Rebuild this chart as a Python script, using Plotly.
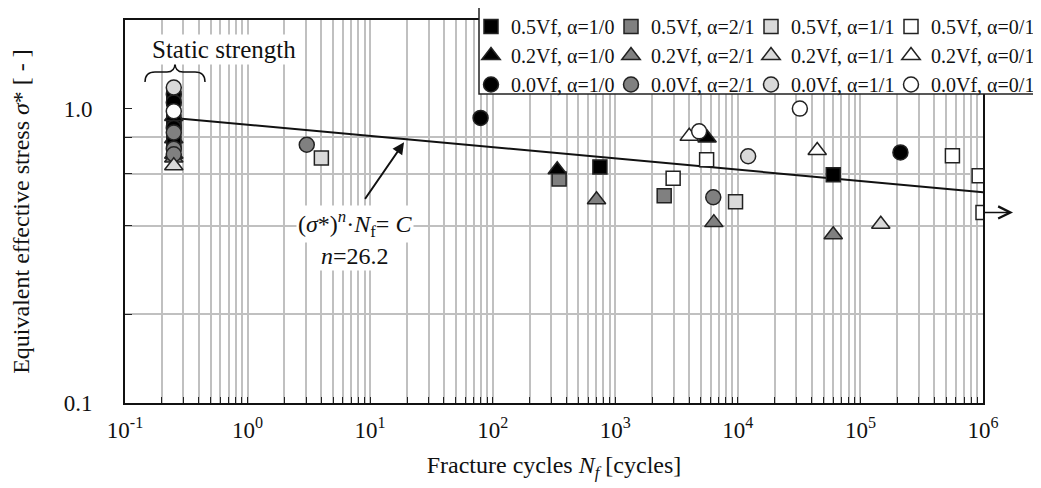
import math
import plotly.graph_objects as go

FONT = "Liberation Serif"

# ---------------- data ----------------
STATIC_N = 0.25  # static strength plotted at this abscissa

# 0.5Vf (squares)
n_05_10 = [749, 60000];            s_05_10 = [0.634, 0.596];            st_05_10 = [1.08, 0.90, 0.78]
n_05_21 = [348, 2506];             s_05_21 = [0.577, 0.506];            st_05_21 = [0.88]
n_05_11 = [4.0, 9570];             s_05_11 = [0.68, 0.483];             st_05_11 = [0.76]
n_05_01 = [2965, 5560, 563000, 930000, 1000000]
s_05_01 = [0.58, 0.671, 0.692, 0.592, 0.444];                           st_05_01 = [0.90]
# 0.2Vf (triangles)
n_02_10 = [336, 5610];             s_02_10 = [0.62, 0.795];             st_02_10 = [0.94, 0.70]
n_02_21 = [703, 6370, 60000];      s_02_21 = [0.49, 0.41, 0.373];       st_02_21 = [0.68]
n_02_11 = [146600];                s_02_11 = [0.405];                   st_02_11 = [0.64]
n_02_01 = [4010, 44400];           s_02_01 = [0.805, 0.721];            st_02_01 = [0.79]
# 0.0Vf (circles)
n_00_10 = [79.6, 212000];          s_00_10 = [0.93, 0.71];              st_00_10 = [1.12, 1.05, 0.86]
n_00_21 = [3.04, 6300];            s_00_21 = [0.754, 0.50];             st_00_21 = [0.83, 0.73, 0.70]
n_00_11 = [12130];                 s_00_11 = [0.689];                   st_00_11 = [1.18]
n_00_01 = [4830, 32060];           s_00_01 = [0.837, 1.0];              st_00_01 = [0.98]

# fitted S-N line (sigma*)^n * Nf = C, n = 26.2 (end points)
fit_N = [0.25, 1000000]
fit_S = [0.93, 0.52]
runout_N = [1000000]
runout_S = [0.444]

series_names = ["0.5Vf, α=1/0", "0.5Vf, α=2/1", "0.5Vf, α=1/1", "0.5Vf, α=0/1",
                "0.2Vf, α=1/0", "0.2Vf, α=2/1", "0.2Vf, α=1/1", "0.2Vf, α=0/1",
                "0.0Vf, α=1/0", "0.0Vf, α=2/1", "0.0Vf, α=1/1", "0.0Vf, α=0/1"]
x_tick_vals = [0.1, 1, 10, 100, 1000, 10000, 100000, 1000000]
x_tick_text = ["10<sup>-1</sup>", "10<sup>0</sup>", "10<sup>1</sup>", "10<sup>2</sup>",
               "10<sup>3</sup>", "10<sup>4</sup>", "10<sup>5</sup>", "10<sup>6</sup>"]
y_tick_vals = [0.1, 1.0]
y_tick_text = ["0.1", "1.0"]
y_grid_vals = [0.2, 0.4, 0.6, 0.8]

# ---------------- styling ----------------
FILL = {"1/0": "#000000", "2/1": "#808080", "1/1": "#d9d9d9", "0/1": "#ffffff"}
SYM = {"0.5": "square", "0.2": "triangle-up", "0.0": "circle"}
SIZE = {"square": 14, "triangle-up": 16, "circle": 15}

fat_N = [n_05_10, n_05_21, n_05_11, n_05_01, n_02_10, n_02_21, n_02_11, n_02_01,
         n_00_10, n_00_21, n_00_11, n_00_01]
fat_S = [s_05_10, s_05_21, s_05_11, s_05_01, s_02_10, s_02_21, s_02_11, s_02_01,
         s_00_10, s_00_21, s_00_11, s_00_01]
stat_S = [st_05_10, st_05_21, st_05_11, st_05_01, st_02_10, st_02_21, st_02_11, st_02_01,
          st_00_10, st_00_21, st_00_11, st_00_01]

def style(name):
    vf = name[:3]
    alpha = name.split("=")[1]
    sym = SYM[vf]
    return sym, FILL[alpha], SIZE[sym]

fig = go.Figure()

# fitted line
fig.add_trace(go.Scatter(x=fit_N, y=fit_S, mode="lines",
                         line=dict(color="#111111", width=2), showlegend=False,
                         hoverinfo="skip"))

# static strength column (stacking order chosen to mimic the reference)
static_order = [3, 7, 1, 5, 2, 0, 4, 8, 9, 6, 11, 10]
for i in static_order:
    sym, fill, size = style(series_names[i])
    fig.add_trace(go.Scatter(
        x=[STATIC_N] * len(stat_S[i]), y=stat_S[i], mode="markers",
        marker=dict(symbol=sym, color=fill, size=size,
                    line=dict(color="#222222", width=1.5)),
        showlegend=False, name=series_names[i]))

# fatigue data; legend laid out as 4 columns x 3 rows
legend_ids = ["legend", "legend2", "legend3", "legend4"]
for i, nm in enumerate(series_names):
    sym, fill, size = style(nm)
    fig.add_trace(go.Scatter(
        x=fat_N[i], y=fat_S[i], mode="markers", name=nm,
        marker=dict(symbol=sym, color=fill, size=size,
                    line=dict(color="#222222", width=1.5)),
        legend=legend_ids[i % 4]))

# ---------------- layout ----------------
OFF = 8                      # page body margin around the figure
W, H = 1033, 480
L, R, T, B = 117, 58, 12, 85
PW, PH = W - L - R, H - T - B

def px(xp):                  # page pixel -> paper x
    return (xp - OFF - L) / PW

def py(yp):                  # page pixel -> paper y
    return (H - B - (yp - OFF)) / PH

minor_x = [m * 10 ** k for k in range(-1, 6) for m in range(2, 10)]

fig.update_layout(
    width=W, height=H, margin=dict(l=L, r=R, t=T, b=B, autoexpand=False),
    paper_bgcolor="white", plot_bgcolor="white",
    font=dict(family=FONT, size=23, color="#111111"),
    showlegend=True,
    xaxis=dict(type="log", range=[-1, 6], tickmode="array",
               tickvals=x_tick_vals, ticktext=x_tick_text,
               showgrid=True, gridcolor="#c0c0c0", gridwidth=1.5,
               ticks="inside", ticklen=6, tickcolor="#222", tickwidth=1,
               showline=True, linecolor="#111", linewidth=2, mirror=True,
               ticklabelstandoff=5, automargin=False,
               minor=dict(tickmode="array", tickvals=minor_x, showgrid=True,
                          gridcolor="#c0c0c0", gridwidth=1.5,
                          ticks="inside", ticklen=6, tickcolor="#222", tickwidth=1),
               title=dict(text="Fracture cycles <i>N<sub>f</sub></i> [cycles]",
                          font=dict(size=24), standoff=15),
               zeroline=False),
    yaxis=dict(type="log", range=[-1, math.log10(2)], tickmode="array",
               tickvals=y_tick_vals, ticktext=y_tick_text,
               showgrid=False,
               ticks="inside", ticklen=7, tickcolor="#222", tickwidth=1,
               showline=True, linecolor="#111", linewidth=2, mirror=True,
               ticklabelstandoff=26, automargin=False,
               minor=dict(tickmode="array", tickvals=y_grid_vals, showgrid=True,
                          gridcolor="#c0c0c0", gridwidth=1.5,
                          ticks="inside", ticklen=7, tickcolor="#222", tickwidth=1),
               title=dict(text="Equivalent effective stress <i>σ</i>* [ - ]",
                          font=dict(size=24), standoff=27),
               zeroline=False),
)

leg_common = dict(orientation="v", xanchor="left", yanchor="top",
                  bgcolor="rgba(0,0,0,0)", borderwidth=0,
                  font=dict(family=FONT, size=20, color="#111111"),
                  itemwidth=30, tracegroupgap=0)
col_x = [471, 611, 751, 891]
fig.update_layout(
    legend=dict(x=px(col_x[0]), y=py(7), **leg_common),
    legend2=dict(x=px(col_x[1]), y=py(7), **leg_common),
    legend3=dict(x=px(col_x[2]), y=py(7), **leg_common),
    legend4=dict(x=px(col_x[3]), y=py(7), **leg_common),
)

# legend box
fig.add_shape(type="rect", xref="paper", yref="paper",
              x0=px(479), x1=px(1039), y0=py(94), y1=py(6),
              line=dict(color="#222", width=1.5), fillcolor="white", layer="above")

# curly brace over static strength column
path = (f"M{px(145)},{py(82)} Q{px(145)},{py(72)} {px(155)},{py(72)} "
        f"L{px(167)},{py(72)} Q{px(175)},{py(72)} {px(175)},{py(63)} "
        f"Q{px(175)},{py(72)} {px(183)},{py(72)} L{px(195)},{py(72)} "
        f"Q{px(205)},{py(72)} {px(205)},{py(82)}")
fig.add_shape(type="path", xref="paper", yref="paper", path=path,
              line=dict(color="#111", width=1.5), layer="above")

fig.add_annotation(xref="paper", yref="paper", x=px(224), y=py(50),
                   xanchor="center", yanchor="middle",
                   text="Static strength", showarrow=False,
                   font=dict(size=25), bgcolor="white")

# model annotation with arrow
fig.add_annotation(xref="x", yref="y", x=math.log10(18.9), y=math.log10(0.768),
                   ax=-40, ay=58, showarrow=True, arrowhead=2, arrowsize=1.3,
                   arrowwidth=1.8, arrowcolor="#111", text="")
fig.add_annotation(xref="paper", yref="paper", x=px(355), y=py(224),
                   xanchor="center", yanchor="middle",
                   text="(<i>σ</i>*)<sup><i>n</i></sup>·<i>N</i><sub>f</sub>= <i>C</i>",
                   showarrow=False, font=dict(size=24), bgcolor="white")
fig.add_annotation(xref="paper", yref="paper", x=px(355), y=py(256),
                   xanchor="center", yanchor="middle",
                   text="<i>n</i>=26.2", showarrow=False, font=dict(size=24),
                   bgcolor="white")

# run-out arrow
fig.add_annotation(xref="x", yref="y", axref="x", ayref="y",
                   x=math.log10(runout_N[0]) + 0.245, y=math.log10(runout_S[0]),
                   ax=math.log10(runout_N[0]), ay=math.log10(runout_S[0]),
                   showarrow=True, arrowhead=5, arrowsize=1.6, arrowwidth=1.5,
                   arrowcolor="#111", text="")

fig.write_html("out.html")
